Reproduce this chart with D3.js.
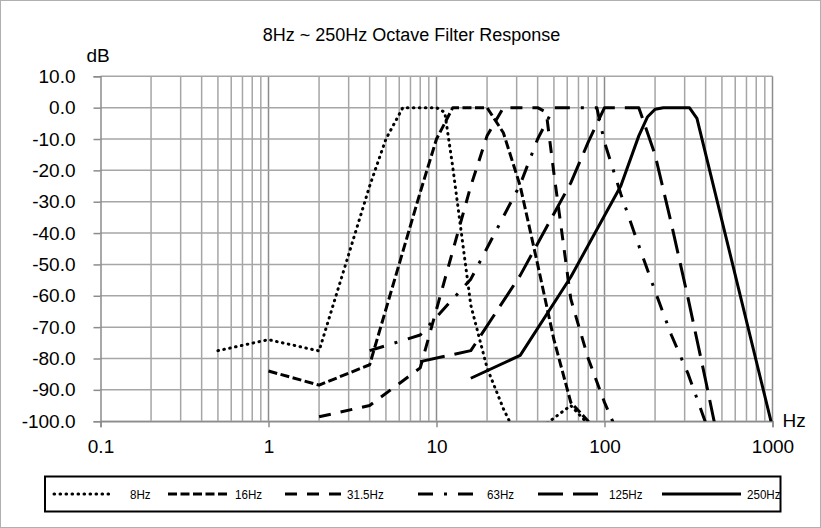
<!DOCTYPE html>
<html>
<head>
<meta charset="utf-8">
<script src="https://cdn.jsdelivr.net/npm/d3@7/dist/d3.min.js"></script>
<style>
  body { margin: 0; background: #fff; }
  svg text { fill: #000; }
</style>
</head>
<body>
<svg id="chart" width="821" height="528"></svg>
<script>
// ---- data -------------------------------------------------------------
const chartTitle = "8Hz ~ 250Hz Octave Filter Response";
const yTickValues = [10, 0, -10, -20, -30, -40, -50, -60, -70, -80, -90, -100];
const xTickValues = [0.1, 1, 10, 100, 1000];
const xTickLabels = ["0.1", "1", "10", "100", "1000"];

const seriesNames = ["8Hz", "16Hz", "31.5Hz", "63Hz", "125Hz", "250Hz"];

const freq8   = [0.5, 1, 2, 4, 5, 6.3, 8, 10, 11.2, 12.5, 16, 20, 25, 31.5, 63, 125];
const db8     = [-77.5, -74, -77.6, -25, -10, 0, 0, 0, -1.5, -19, -63, -83, -96, -107, -95, -112];

const freq16  = [1, 2, 4, 8, 10, 12.5, 16, 20, 25, 31.5, 40, 50, 63, 80, 125];
const db16    = [-84, -88.5, -82, -27, -10, 0, 0, 0, -8, -25, -50, -74, -94, -100, -108];

const freq31  = [2, 4, 8, 16, 20, 25, 31.5, 40, 45, 50, 63, 80, 100, 125];
const db31    = [-98.6, -95, -83, -25, -9, 0, 0, 0, -1.5, -21, -61, -80, -94, -106];

const freq63  = [4, 8, 16, 31.5, 40, 50, 63, 90, 100, 125, 160, 200, 250, 315, 400, 500];
const db63    = [-77.5, -72.5, -54.7, -24.5, -10, 0, 0, 0, -11, -27.5, -44, -58.5, -72.5, -85, -100.5, -112];

const freq125 = [8, 16, 31.5, 63, 80, 100, 125, 160, 200, 250, 315, 400, 500];
const db125   = [-81, -77.5, -53.5, -24, -11, 0, 0, 0, -15, -37, -61, -87, -112];

const freq250 = [16, 31.5, 63, 125, 160, 180, 200, 224, 250, 320, 355, 1000];
const db250   = [-86.3, -79, -54, -25, -9, -3, -0.5, 0, 0, 0, -3.4, -102];

const seriesFreqs = [freq8, freq16, freq31, freq63, freq125, freq250];
const seriesDbs   = [db8, db16, db31, db63, db125, db250];

// line styles per series (Excel-like patterns at 3px width)
const dashPatterns = ["0.6,5.4", "9,3.5", "12,10", "15,11,3,11", "25,10", null];
const lineCaps     = ["round", "butt", "butt", "butt", "butt", "butt"];

// ---- layout -----------------------------------------------------------
const svg = d3.select("#chart");
const W = 821, H = 528;
const plot = { left: 100.5, right: 772.5, top: 76.3, bottom: 421.2 };

const x = d3.scaleLog().domain([0.1, 1000]).range([plot.left, plot.right]);
const y = d3.scaleLinear().domain([-100, 10]).range([plot.bottom, plot.top]);

const gridColor = "#a6a6a6";
const axisColor = "#8c8c8c";
const sans = "'Liberation Sans', Arial, sans-serif";

// chart area border
svg.append("rect")
  .attr("x", 0.5).attr("y", 0.5)
  .attr("width", W - 1).attr("height", H - 1)
  .attr("fill", "#fff").attr("stroke", "#b0b0b0").attr("stroke-width", 1);

// title
svg.append("text")
  .attr("x", 411.5).attr("y", 40.5)
  .attr("text-anchor", "middle")
  .style("font-family", sans).style("font-size", "18px")
  .text(chartTitle);

// axis titles
svg.append("text")
  .attr("x", 86.5).attr("y", 61.5)
  .style("font-family", sans).style("font-size", "19px")
  .text("dB");
svg.append("text")
  .attr("x", 782.5).attr("y", 427)
  .style("font-family", sans).style("font-size", "19px")
  .text("Hz");

// ---- grid -------------------------------------------------------------
const grid = svg.append("g").attr("class", "grid");

const minorFreqs = [];
for (let d = -1; d < 3; d++) {
  for (let k = 2; k <= 9; k++) minorFreqs.push(k * Math.pow(10, d));
}
grid.selectAll("line.vminor").data(minorFreqs).join("line")
  .attr("class", "vminor")
  .attr("x1", d => x(d)).attr("x2", d => x(d))
  .attr("y1", plot.top).attr("y2", plot.bottom)
  .attr("stroke", gridColor).attr("stroke-width", 1.5);

grid.selectAll("line.vmajor").data(xTickValues.slice(1)).join("line")
  .attr("class", "vmajor")
  .attr("x1", d => x(d)).attr("x2", d => x(d))
  .attr("y1", plot.top).attr("y2", plot.bottom)
  .attr("stroke", axisColor).attr("stroke-width", 1.5);

grid.selectAll("line.h").data(yTickValues).join("line")
  .attr("class", "h")
  .attr("x1", plot.left).attr("x2", plot.right)
  .attr("y1", d => y(d)).attr("y2", d => y(d))
  .attr("stroke", gridColor).attr("stroke-width", 1.5);

// ---- axes -------------------------------------------------------------
const yAxis = svg.append("g")
  .attr("transform", `translate(${plot.left},0)`)
  .call(d3.axisLeft(y)
    .tickValues(yTickValues)
    .tickSize(7)
    .tickPadding(18)
    .tickFormat(d => d.toFixed(1)));

const xAxis = svg.append("g")
  .attr("transform", `translate(0,${plot.bottom})`)
  .call(d3.axisBottom(x)
    .tickValues(xTickValues)
    .tickSize(6)
    .tickPadding(12)
    .tickFormat((d, i) => xTickLabels[i]));

[yAxis, xAxis].forEach(g => {
  g.select(".domain").attr("stroke", axisColor).attr("stroke-width", 1.5);
  g.selectAll(".tick line").attr("stroke", axisColor).attr("stroke-width", 1.5);
  g.selectAll(".tick text")
    .style("font-family", sans).style("font-size", "19px").attr("fill", "#000");
});

// ---- series -----------------------------------------------------------
svg.append("clipPath").attr("id", "plotClip")
  .append("rect")
  .attr("x", plot.left).attr("y", plot.top - 2)
  .attr("width", plot.right - plot.left + 2)
  .attr("height", plot.bottom - plot.top + 2);

const line = d3.line()
  .x(d => x(d[0]))
  .y(d => y(d[1]));

const seriesG = svg.append("g").attr("clip-path", "url(#plotClip)");
seriesNames.forEach((name, i) => {
  const pts = seriesFreqs[i].map((f, j) => [f, seriesDbs[i][j]]);
  seriesG.append("path")
    .datum(pts)
    .attr("d", line)
    .attr("fill", "none")
    .attr("stroke", "#000")
    .attr("stroke-width", 3)
    .attr("stroke-linejoin", "round")
    .attr("stroke-linecap", lineCaps[i])
    .attr("stroke-dasharray", dashPatterns[i]);
});

// ---- legend -----------------------------------------------------------
const legend = svg.append("g");
legend.append("rect")
  .attr("x", 45).attr("y", 476.5)
  .attr("width", 735.5).attr("height", 35)
  .attr("fill", "#fff").attr("stroke", "#000").attr("stroke-width", 2);

const legendLineX = [[54, 110], [168, 230], [285, 344], [418, 473], [538, 605], [662, 741]];
const legendTextX = [130, 235, 347, 487, 609, 747];
const legendY = 494;

seriesNames.forEach((name, i) => {
  legend.append("line")
    .attr("x1", legendLineX[i][0]).attr("x2", legendLineX[i][1])
    .attr("y1", legendY).attr("y2", legendY)
    .attr("stroke", "#000").attr("stroke-width", 3)
    .attr("stroke-linecap", lineCaps[i])
    .attr("stroke-dasharray", dashPatterns[i]);
  // condensed label text
  legend.append("text")
    .attr("transform", `translate(${legendTextX[i]},${legendY}) scale(0.86,1)`)
    .attr("dy", "0.35em")
    .style("font-family", sans).style("font-size", "13.5px")
    .text(name);
});
</script>
</body>
</html>
